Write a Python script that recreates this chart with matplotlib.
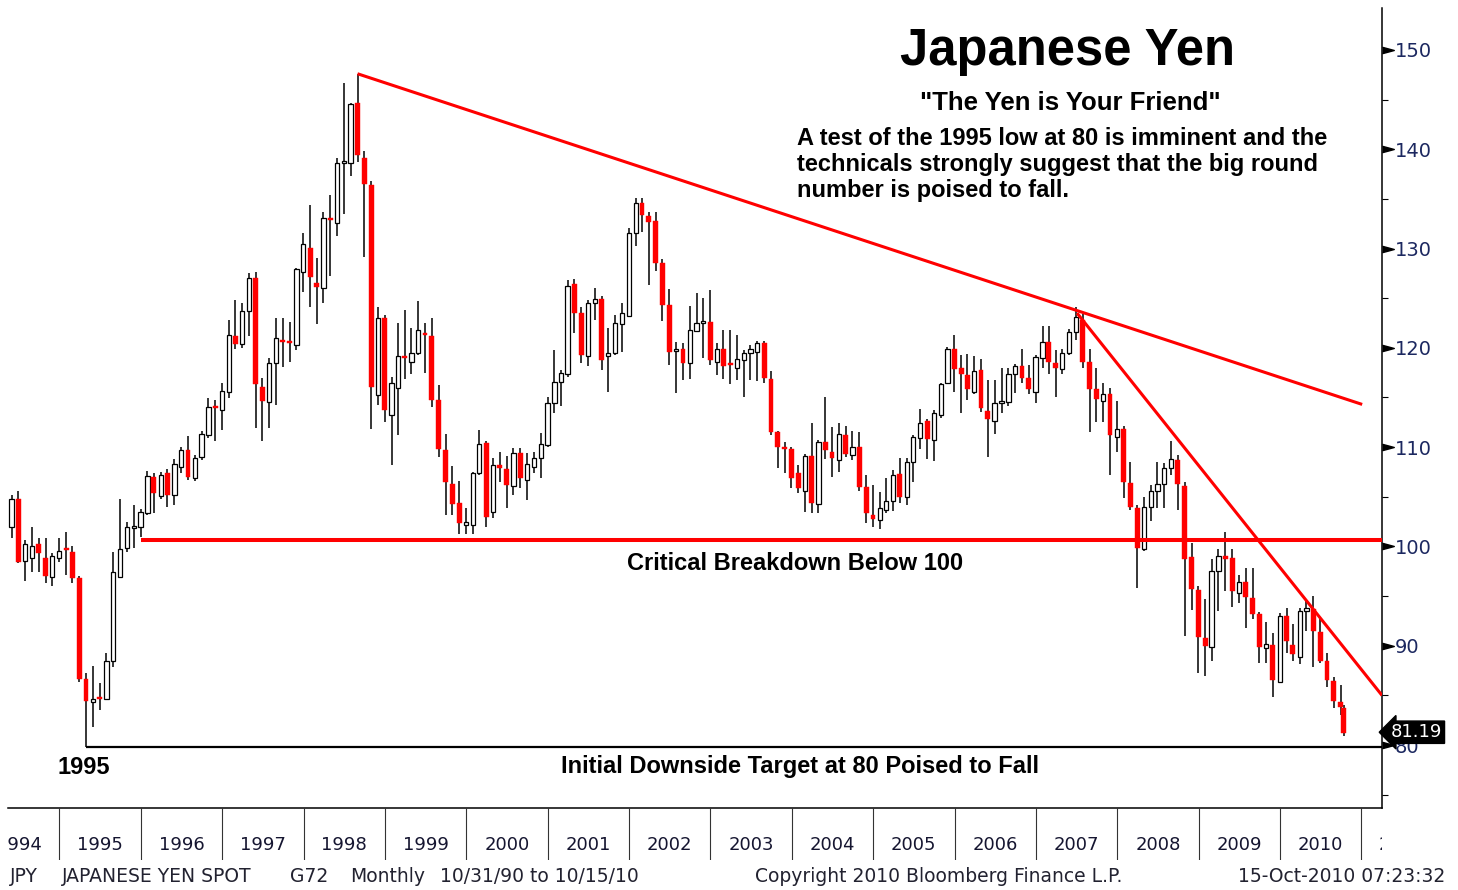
import numpy as np
import pandas as pd
import matplotlib
matplotlib.use('Agg')
import matplotlib.pyplot as plt
import matplotlib.dates as mdates
import matplotlib.transforms as mtransforms

W, H, DPI = 1458, 890, 100

# monthly USD/JPY candles, Apr 1994 .. Oct 2010 (last bar dated 15-Oct-2010)
opens = [102.8, 102.0, 104.8, 98.5, 98.8, 100.2, 98.8, 96.9, 98.8,
         99.8, 99.4, 96.8, 86.6, 84.3, 84.8, 84.6, 88.5, 96.9, 99.8, 101.9, 102.0,
         103.4, 107.0, 105.1, 107.4, 105.2, 108.0, 109.7, 106.9, 109.0, 111.2, 114.1, 113.7,
         115.6, 121.2, 120.4, 123.7, 127.0, 116.1, 114.5, 118.5, 120.8, 120.6, 120.3, 127.6,
         130.1, 126.5, 126.0, 133.1, 132.6, 138.6, 138.6, 144.7, 139.1, 136.4, 115.2, 123.0,
         113.2, 116.0, 119.2, 118.6, 119.5, 121.5, 121.2, 114.7, 109.7, 106.3, 104.4, 102.2,
         102.2, 107.4, 110.4, 103.5, 108.2, 107.8, 106.1, 109.4, 106.7, 108.0, 108.9, 110.2,
         114.4, 116.6, 117.4, 126.4, 123.5, 119.2, 124.5, 124.9, 119.2, 119.5, 122.4, 123.2,
         131.6, 134.6, 133.3, 132.8, 128.5, 124.3, 119.7, 119.9, 118.5, 121.7, 122.5, 122.6,
         118.6, 119.9, 118.4, 118.0, 118.8, 119.5, 119.6, 120.5, 116.9, 111.5, 110.0, 109.8,
         107.4, 105.6, 109.1, 104.3, 110.5, 109.5, 108.7, 111.2, 109.2, 110.0, 106.0, 103.2,
         102.7, 103.7, 104.6, 107.3, 105.0, 108.5, 110.9, 112.6, 110.7, 113.2, 116.5, 119.9,
         118.0, 117.3, 115.6, 117.8, 113.6, 112.6, 114.4, 114.5, 117.4, 118.2, 117.0, 115.6,
         119.0, 120.6, 118.5, 117.9, 119.5, 121.6, 122.8, 118.6, 115.9, 114.6, 115.4, 111.0,
         111.8, 106.4, 103.9, 99.7, 104.0, 105.6, 106.3, 107.9, 108.7, 106.1, 98.9, 95.6,
         90.8, 89.9, 97.5, 99.0, 98.8, 95.3, 96.4, 94.8, 93.2, 89.8, 90.1, 86.3,
         93.0, 90.1, 88.9, 93.5, 93.7, 91.4, 88.5, 86.4, 84.3, 83.7]
highs = [103.5, 105.2, 105.6, 100.6, 102.0, 100.8, 100.8, 99.3, 100.8,
         101.5, 100.0, 97.0, 87.3, 88.0, 86.2, 89.3, 99.4, 104.8, 102.5, 104.2, 103.8,
         107.6, 107.4, 107.5, 107.8, 108.8, 110.0, 111.1, 109.2, 111.6, 114.9, 114.7, 116.5,
         122.8, 124.8, 124.5, 127.5, 127.6, 117.0, 119.0, 123.0, 123.0, 122.6, 128.0, 131.6,
         134.4, 129.0, 133.7, 135.4, 139.1, 146.7, 144.7, 147.6, 139.8, 136.8, 124.1, 123.3,
         117.1, 122.5, 123.8, 122.0, 124.7, 122.5, 123.0, 116.3, 111.3, 108.1, 106.6, 103.9,
         107.5, 111.7, 110.6, 108.9, 109.5, 109.1, 109.9, 109.9, 109.4, 109.5, 111.4, 115.0,
         119.8, 117.8, 126.8, 126.9, 124.1, 124.8, 126.0, 125.2, 122.0, 123.3, 124.5, 132.1,
         135.1, 135.1, 133.7, 133.7, 128.9, 125.9, 120.6, 120.5, 124.2, 125.5, 125.0, 125.8,
         120.5, 121.8, 121.8, 121.3, 119.8, 120.3, 120.7, 120.7, 117.7, 111.6, 110.5, 110.0,
         108.2, 109.3, 112.4, 110.7, 115.0, 112.0, 112.4, 112.1, 111.6, 111.5, 107.2, 106.2,
         105.5, 106.9, 107.7, 108.9, 108.9, 111.2, 113.8, 112.8, 113.7, 116.5, 120.1, 121.3,
         119.3, 119.4, 119.2, 118.9, 116.8, 116.8, 118.0, 118.0, 118.4, 119.9, 118.3, 119.3,
         122.2, 122.2, 119.8, 119.9, 121.9, 124.1, 123.4, 119.9, 118.0, 116.5, 116.0, 114.6,
         112.1, 108.5, 104.2, 105.0, 106.2, 108.5, 108.4, 110.6, 109.2, 106.5, 100.3, 96.0,
         94.7, 98.7, 99.7, 101.5, 99.7, 97.1, 97.8, 97.8, 93.4, 92.4, 91.3, 93.3,
         93.8, 92.2, 93.8, 94.6, 95.0, 92.9, 89.3, 86.9, 86.0, 84.0]
lows = [101.3, 100.8, 98.3, 96.5, 97.4, 97.4, 96.3, 96.0, 98.4,
        97.1, 96.3, 86.3, 79.8, 81.8, 83.5, 84.5, 87.9, 96.8, 99.4, 99.8, 101.0,
        103.2, 103.4, 104.8, 104.0, 104.2, 107.4, 106.7, 106.6, 108.7, 110.9, 110.6, 111.7,
        114.9, 119.9, 120.0, 121.2, 111.9, 110.6, 111.9, 114.2, 118.1, 118.6, 119.8, 125.6,
        124.1, 122.4, 124.5, 127.2, 131.3, 133.5, 137.3, 138.7, 129.1, 111.8, 114.2, 112.5,
        108.2, 111.2, 116.9, 117.4, 119.3, 117.5, 114.0, 109.0, 103.2, 103.2, 101.3, 101.3,
        101.3, 107.2, 102.0, 102.9, 106.5, 103.9, 105.2, 105.9, 104.7, 107.4, 106.9, 110.0,
        113.4, 114.1, 117.1, 121.5, 118.5, 118.2, 122.8, 117.8, 115.6, 119.3, 119.6, 123.1,
        130.3, 131.7, 126.3, 127.7, 122.7, 118.3, 115.5, 116.8, 116.9, 121.6, 119.0, 118.3,
        117.3, 116.9, 116.4, 116.8, 115.0, 116.8, 116.7, 116.5, 111.2, 107.9, 107.4, 105.9,
        105.4, 103.5, 103.4, 103.4, 108.8, 107.0, 107.5, 109.0, 108.7, 105.6, 102.4, 102.0,
        101.8, 103.4, 103.6, 104.4, 104.2, 106.5, 109.8, 108.8, 108.6, 112.9, 116.4, 115.6,
        113.4, 114.7, 115.4, 113.5, 109.0, 111.3, 113.4, 114.1, 115.5, 116.5, 115.4, 114.4,
        118.0, 117.4, 115.0, 117.4, 119.3, 120.8, 118.0, 111.5, 112.5, 112.5, 107.2, 109.5,
        104.9, 103.7, 95.8, 99.5, 102.6, 103.9, 103.9, 107.2, 103.7, 91.0, 93.6, 87.3,
        87.0, 88.5, 93.5, 95.5, 93.9, 94.3, 91.8, 92.7, 88.3, 88.3, 84.8, 86.2,
        89.3, 88.5, 88.2, 91.5, 87.9, 88.3, 85.8, 83.7, 83.0, 80.9]
closes = [101.9, 104.8, 98.4, 100.2, 100.0, 99.3, 97.0, 99.0, 99.5,
          99.6, 96.8, 86.6, 84.4, 84.6, 84.6, 88.5, 97.4, 99.7, 102.0, 102.0, 103.5,
          107.1, 105.4, 107.2, 105.2, 108.3, 109.7, 107.0, 108.9, 111.3, 114.0, 113.9, 115.7,
          121.3, 120.4, 123.7, 127.0, 116.4, 114.6, 118.5, 121.0, 120.6, 120.5, 127.9, 130.5,
          127.1, 126.1, 133.1, 132.9, 138.6, 138.7, 144.6, 139.4, 136.5, 116.1, 123.0, 113.7,
          116.5, 119.2, 119.0, 119.5, 121.8, 121.3, 114.7, 109.8, 106.5, 104.3, 102.4, 102.5,
          107.4, 110.3, 103.0, 108.2, 107.9, 106.2, 109.4, 106.9, 108.3, 108.9, 110.3, 114.4,
          116.6, 117.5, 126.2, 123.5, 119.3, 124.5, 124.9, 118.8, 119.5, 122.5, 123.5, 131.6,
          134.6, 133.4, 132.7, 128.5, 124.3, 119.6, 119.8, 118.5, 121.8, 122.5, 122.6, 118.8,
          119.9, 118.2, 118.3, 118.9, 119.5, 119.9, 120.5, 117.0, 111.5, 110.0, 109.8, 106.9,
          105.9, 109.1, 104.4, 110.5, 109.7, 108.9, 111.3, 109.3, 110.0, 106.0, 103.4, 102.8,
          103.9, 104.6, 107.2, 105.0, 108.5, 111.0, 112.4, 110.8, 113.4, 116.4, 119.9, 117.9,
          117.4, 115.9, 117.7, 113.9, 112.8, 114.4, 114.5, 117.4, 118.2, 117.0, 115.9, 119.1,
          120.6, 118.6, 118.0, 119.5, 121.6, 123.1, 118.6, 115.9, 114.8, 115.4, 111.2, 111.8,
          106.5, 104.0, 99.8, 104.0, 105.6, 106.3, 107.9, 108.8, 106.3, 98.7, 95.7, 90.9,
          90.0, 97.5, 99.0, 98.7, 95.5, 96.4, 94.9, 93.2, 89.9, 90.2, 86.5, 93.0,
          90.5, 89.2, 93.5, 93.8, 91.5, 88.5, 86.5, 84.4, 83.8, 81.19]

dates = list(pd.date_range('1994-04-30', periods=len(opens) - 1, freq='ME')) + [pd.Timestamp('2010-10-15')]

# drawn levels / trendlines
support_level = 100.6
support_start = '1995-12-31'
target_level = 79.8
target_start = '1995-04-30'
trend1_dates = ['1998-08-31', '2011-01-05']
trend1_prices = [147.6, 114.3]
trend2_dates = ['2007-07-05', '2011-04-04']
trend2_prices = [123.5, 85.0]
last_price = 81.19

years = list(range(1994, 2012))
yticks = list(range(80, 151, 10))
yminor = list(range(75, 151, 10))

x_left, x_right = '1994-05-15', '2011-04-04'
y_low, y_high = 73.66, 154.22

bold = ['Liberation Sans', 'DejaVu Sans']
plain = ['DejaVu Sans']
navy = '#1c2860'


def fx(px):
    return px / W


def fy(py):
    return 1 - py / H


fig = plt.figure(figsize=(W / DPI, H / DPI), dpi=DPI)
fig.patch.set_facecolor('white')

ax = fig.add_axes([fx(8), fy(808), (1382 - 8) / W, 800 / H])
xl = mdates.date2num(pd.Timestamp(x_left))
xr = mdates.date2num(pd.Timestamp(x_right))
ax.set_xlim(xl, xr)
ax.set_ylim(y_low, y_high)

x = mdates.date2num(pd.DatetimeIndex(dates))
o = np.array(opens)
h = np.array(highs)
l = np.array(lows)
c = np.array(closes)
up = c >= o
bot = np.minimum(o, c)
hgt = np.maximum(np.abs(c - o), 0.2)

ax.vlines(x, l, h, color='black', lw=1.1, zorder=2)
ax.bar(x[up], hgt[up], bottom=bot[up], width=19, facecolor='white',
       edgecolor='black', lw=0.9, zorder=3)
ax.bar(x[~up], hgt[~up], bottom=bot[~up], width=22, facecolor='#ff0000',
       edgecolor='#ff0000', lw=0.3, zorder=3)

# support / target lines and trendlines
ax.hlines(support_level, mdates.date2num(pd.Timestamp(support_start)), xr,
          color='#ff0000', lw=2.9, zorder=4)
ax.hlines(target_level, mdates.date2num(pd.Timestamp(target_start)), xr,
          color='black', lw=1.6, zorder=4)
ax.plot(mdates.date2num(pd.DatetimeIndex(trend1_dates)), trend1_prices,
        color='#ff0000', lw=2.2, zorder=4, solid_capstyle='butt')
ax.plot(mdates.date2num(pd.DatetimeIndex(trend2_dates)), trend2_prices,
        color='#ff0000', lw=2.2, zorder=4, solid_capstyle='butt')

# axes styling
for s in ['left', 'top']:
    ax.spines[s].set_visible(False)
for s in ['right', 'bottom']:
    ax.spines[s].set_color('black')
    ax.spines[s].set_linewidth(1.1)
ax.set_xticks([])
ax.yaxis.tick_right()
ax.set_yticks(yticks)
ax.set_yticks(yminor, minor=True)
ax.tick_params(axis='y', which='major', length=0, pad=9.4, labelsize=14,
               labelcolor=navy)
ax.tick_params(axis='y', which='minor', length=4.3, width=0.8, direction='out')
for lab in ax.get_yticklabels():
    lab.set_family(plain)

trans = mtransforms.blended_transform_factory(ax.transAxes, ax.transData)
tri = [(0, -0.27), (1, 0), (0, 0.27)]
ax.plot([1.0] * len(yticks), yticks, linestyle='none', marker=tri,
        markersize=17, color='black', transform=trans, clip_on=False, zorder=5)

# last price flag
ax.text(1.0, last_price, '81.19', transform=mtransforms.offset_copy(trans, fig=fig, x=9, y=1, units='dots'),
        ha='left', va='center', color='white', fontsize=13, family=plain,
        bbox=dict(boxstyle='larrow,pad=0.12', fc='black', ec='black'),
        clip_on=False, zorder=10)

# year strip under the chart
axy = fig.add_axes([fx(8), fy(860), (1382 - 8) / W, 52 / H])
axy.set_xlim(xl, xr)
axy.set_ylim(0, 1)
axy.axis('off')
ty = mtransforms.blended_transform_factory(axy.transData, axy.transAxes)
for yr in years:
    xb = mdates.date2num(pd.Timestamp(f'{yr}-01-01'))
    axy.plot([xb, xb], [0, 1], color='#333333', lw=0.8, transform=ty)
    axy.text(mdates.date2num(pd.Timestamp(f'{yr}-07-02')), 0.29, str(yr),
             transform=ty, ha='center', va='center', fontsize=13,
             family=plain, color='#151530', clip_on=True)

# annotations
fig.text(fx(1068), fy(52), 'Japanese Yen', ha='center', va='center',
         fontsize=36.5, fontweight='bold', family=bold)
fig.text(fx(1070), fy(103), '"The Yen is Your Friend"', ha='center', va='center',
         fontsize=18.5, fontweight='bold', family=bold)
para = ['A test of the 1995 low at 80 is imminent and the',
        'technicals strongly suggest that the big round',
        'number is poised to fall.']
for i, line in enumerate(para):
    fig.text(fx(797), fy(138 + 26 * i), line, ha='left', va='center',
             fontsize=17, fontweight='bold', family=bold)
fig.text(fx(795), fy(563), 'Critical Breakdown Below 100', ha='center', va='center',
         fontsize=17, fontweight='bold', family=bold)
fig.text(fx(84), fy(768), '1995', ha='center', va='center',
         fontsize=17, fontweight='bold', family=bold)
fig.text(fx(800), fy(767), 'Initial Downside Target at 80 Poised to Fall',
         ha='center', va='center', fontsize=17, fontweight='bold', family=bold)

# footer
foot = [(10, 'JPY'), (62, 'JAPANESE YEN SPOT'), (290, 'G72'), (350, 'Monthly'),
        (440, '10/31/90 to 10/15/10'), (755, 'Copyright 2010 Bloomberg Finance L.P.')]
for px, s in foot:
    fig.text(fx(px), fy(876), s, ha='left', va='center', fontsize=13.5,
             family=plain, color='#222230')
fig.text(fx(1445), fy(876), '15-Oct-2010 07:23:32', ha='right', va='center',
         fontsize=13.5, family=plain, color='#222230')

fig.savefig('out.png', dpi=DPI, facecolor='white')
